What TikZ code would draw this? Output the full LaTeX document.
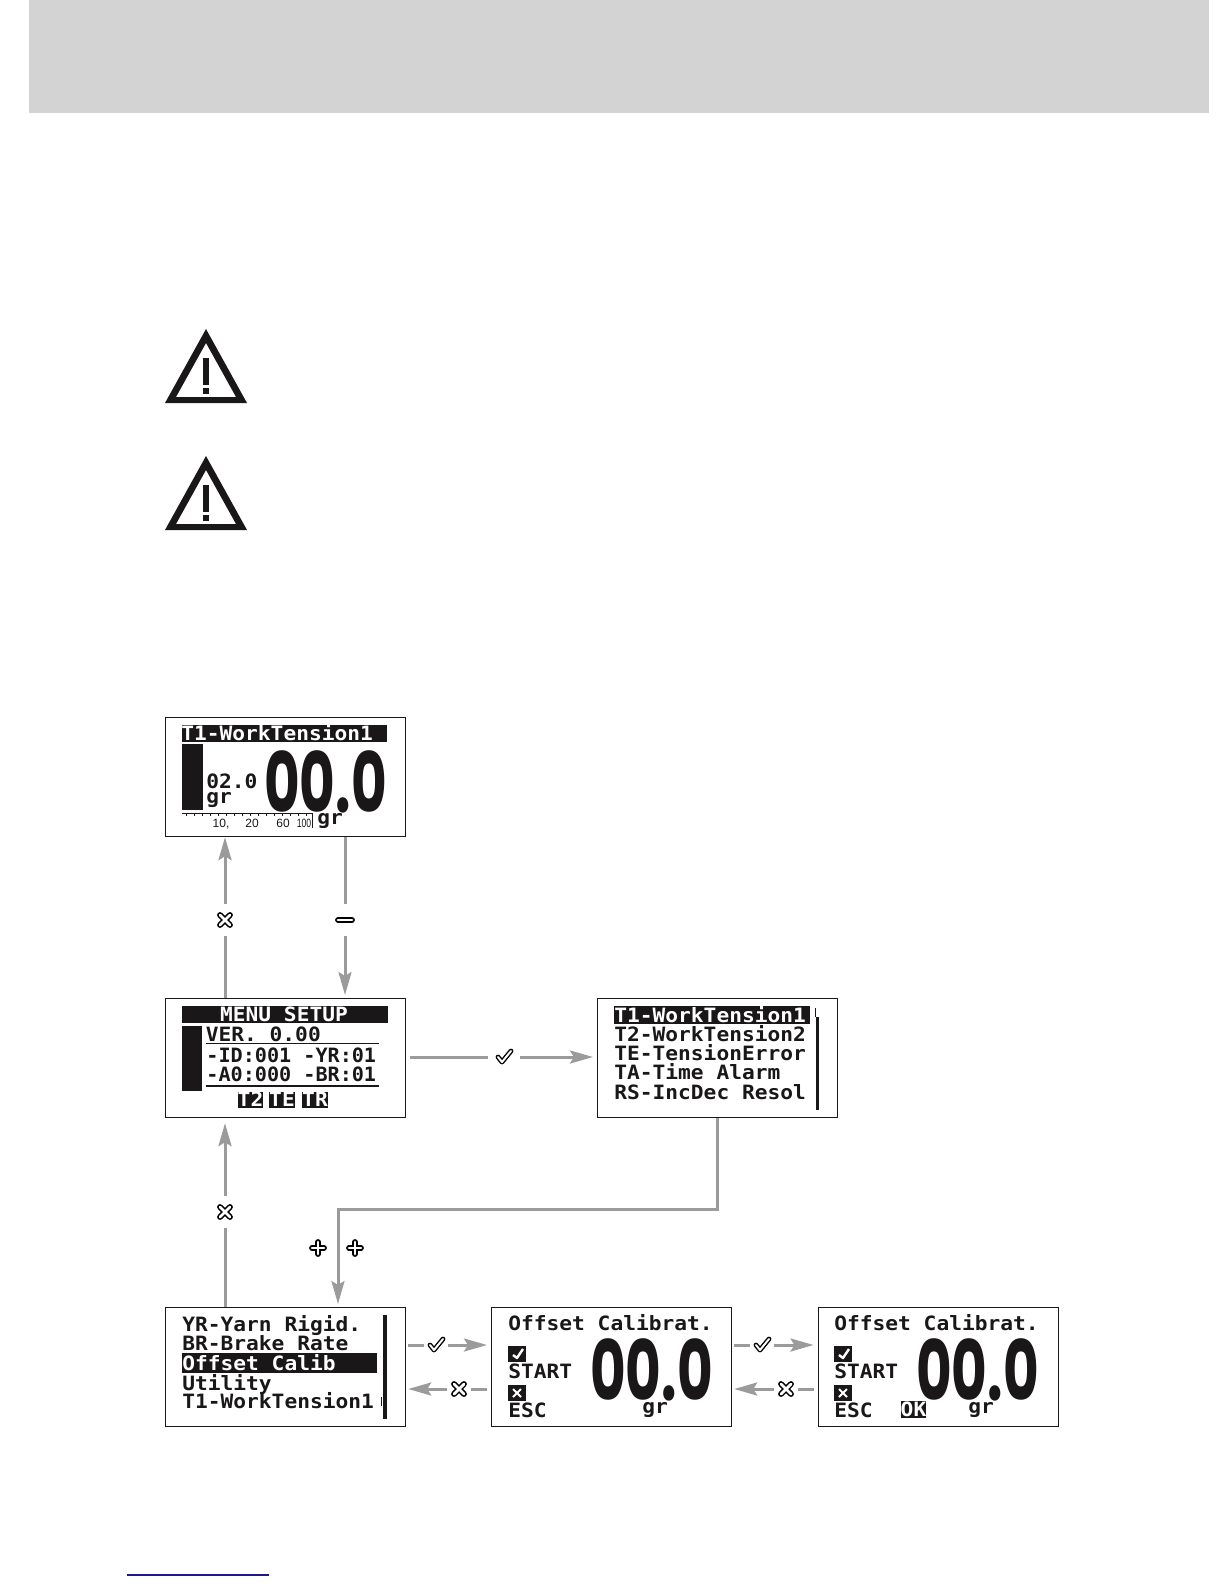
\documentclass[tikz,border=0pt]{standalone}
\usepackage{fontspec}
\usepackage{xcolor}
\usetikzlibrary{positioning,arrows.meta}
\newfontfamily\lcdfont{DejaVu Sans Mono}
\newfontfamily\bigfont{Poppins}
\newfontfamily\scalefont{Liberation Sans}
\definecolor{bandGray}{HTML}{D3D3D3}
\definecolor{flowGray}{HTML}{9B9B9B}
\definecolor{lcdBlack}{HTML}{1A1718}
\definecolor{linkBlue}{HTML}{1A1A8C}
\tikzset{
  lcd-box/.style={draw=lcdBlack, line width=0.6pt, fill=white, inner sep=0pt,
    minimum width=120pt, minimum height=59.5pt, anchor=north west},
  lcd-text/.style={font=\lcdfont\bfseries\fontsize{10.6}{12}\selectfont,
    text=lcdBlack, anchor=base west, inner sep=0pt, yscale=0.93},
  lcd-inv/.style={lcd-text, text=white},
  lcd-badge/.style={lcd-inv, anchor=base},
  lcd-big/.style={font=\bigfont\bfseries\fontsize{41.5}{42}\selectfont,
    text=lcdBlack, anchor=base west, inner sep=0pt, xscale=0.66},
  lcd-scale/.style={font=\scalefont\fontsize{6}{7}\selectfont, text=lcdBlack,
    anchor=base, inner sep=0pt},
  flow-line/.style={line width=1.5pt, draw=flowGray},
  flow/.style={flow-line, -{Stealth[length=11.5pt,width=6.5pt,inset=2pt]}},
  icon-slot/.style={inner sep=0pt, minimum size=16pt},
  icon-slim/.style={inner sep=0pt, minimum size=11.5pt},
  icon-out/.style={draw=black, line width=2.9pt, line cap=round, line join=round},
  icon-in/.style={draw=white, line width=1.4pt, line cap=round, line join=round},
  xicon/.pic={
    \draw[icon-out] (-5,-5) -- (5,5) (-5,5) -- (5,-5);
    \draw[icon-in] (-5,-5) -- (5,5) (-5,5) -- (5,-5);
  },
  checkicon/.pic={
    \draw[icon-out, line width=2.4pt] (-6,0) -- (-2,5) -- (7,-6);
    \draw[icon-in, line width=1pt] (-6,0) -- (-2,5) -- (7,-6);
  },
  plusicon/.pic={
    \draw[icon-out] (-6,0) -- (6,0) (0,-6) -- (0,6);
    \draw[icon-in] (-6,0) -- (6,0) (0,-6) -- (0,6);
  },
  minusicon/.pic={
    \draw[icon-out] (-7,0) -- (7,0);
    \draw[icon-in] (-7,0) -- (7,0);
  }
}
\begin{document}
\begin{tikzpicture}[x=0.5pt, y=-0.5pt]
\useasboundingbox (0,0) rectangle (1224,1584);
% Header band and footer rule
\fill[bandGray] (29,0) rectangle (1209,113);
\draw[linkBlue, line width=1pt] (127,1575) -- (269,1575);
% Warning triangles
\foreach \y in {0,127}{
  \fill[lcdBlack, even odd rule] (165,403+\y) -- (206,329+\y) -- (247,403+\y) -- cycle
    (176,397+\y) -- (206,343+\y) -- (236,397+\y) -- cycle;
  \fill[lcdBlack] (203,358+\y) rectangle (209,385+\y);
  \fill[lcdBlack] (203,388+\y) rectangle (209,394+\y);
}
% Screens
\node[lcd-box] (work) at (165,717) {};
\node[lcd-box] (menu) at (165,998) {};
\node[lcd-box] (list) at (597,998) {};
\node[lcd-box] (yarn) at (165,1307) {};
\node[lcd-box] (calA) at (491,1307) {};
\node[lcd-box] (calB) at (817.5,1307) {};
% Work screen
\fill[lcdBlack] (182,725) rectangle (387,742);
\fill[lcdBlack] (182,744) rectangle (203,810);
\node[lcd-inv] (workTitle) at (181,740) {T1-WorkTension1};
\node[lcd-text] (workSet) at (206,788) {02.0};
\node[lcd-text] (workSetUnit) at (206,803) {gr};
\node[lcd-big] (workValue) at (264,812) {00.0};
\node[lcd-text] (workUnit) at (317,824) {gr};
\draw[lcdBlack, line width=0.5pt] (182,813) -- (312,813) -- (312,828);
\foreach \x in {186,194,...,306}{
  \draw[lcdBlack, line width=0.4pt] (\x,813) -- (\x,816);
}
\foreach \x/\t in {221/{10,}, 252/20, 283/60}{
  \node[lcd-scale] (scale\x) at (\x,827) {\t};
}
\node[lcd-scale, xscale=0.72] (scale304) at (304,827) {100};
% Menu screen
\fill[lcdBlack] (182,1006) rectangle (388,1023);
\fill[lcdBlack] (182,1026) rectangle (202,1091);
\node[lcd-badge] (menuTitle) at (284,1021) {MENU SETUP};
\node[lcd-text] (menuVer) at (205.5,1041) {VER. 0.00};
\node[lcd-text, xscale=0.95] (menuId) at (206,1062) {-ID:001 -YR:01};
\node[lcd-text, xscale=0.95] (menuAo) at (206,1081) {-A0:000 -BR:01};
\draw[lcdBlack, line width=0.7pt] (206,1043.5) -- (379,1043.5) (206,1086) -- (379,1086);
\foreach \xa/\xb/\t in {238/263/T2, 269/295/TE, 302/328/TR}{
  \fill[lcdBlack] (\xa,1092) rectangle (\xb,1108);
  \node[lcd-badge] (badge\t) at ({(\xa+\xb)/2},1106) {\t};
}
% List screen
\fill[lcdBlack] (614,1006) rectangle (810,1024);
\node[lcd-inv] (listA) at (614,1022) {T1-WorkTension1};
\foreach \y/\t/\n in {1041/T2-WorkTension2/B, 1060/TE-TensionError/C, 1079/TA-Time Alarm/D, 1099/RS-IncDec Resol/E}{
  \node[lcd-text] (list\n) at (614,\y) {\t};
}
\fill[lcdBlack] (816,1017) rectangle (819,1110);
\draw[lcdBlack, line width=0.4pt] (815,1008) -- (815,1017);
% Yarn screen
\fill[lcdBlack] (182,1353) rectangle (377,1373);
\foreach \y/\t/\n in {1331/YR-Yarn Rigid./A, 1350/BR-Brake Rate/B, 1390/Utility/D, 1408/T1-WorkTension1/E}{
  \node[lcd-text] (yarn\n) at (182,\y) {\t};
}
\node[lcd-inv] (yarnC) at (182,1370) {Offset Calib};
\fill[lcdBlack] (383,1315) rectangle (387,1419);
\draw[lcdBlack, line width=0.5pt] (381.5,1397) -- (381.5,1406);
% Calibration screens
\foreach \dx/\n in {0/A, -326/B}{
  \begin{scope}[shift={(\dx,0)}]
    \node[lcd-text] (title\n) at (834,1330) {Offset Calibrat.};
    \fill[lcdBlack] (834,1346) rectangle (852,1362);
    \draw[white, line width=1.2pt, line join=round] (839,1355) -- (843,1358) -- (849,1349);
    \node[lcd-text] (start\n) at (834,1378) {START};
    \fill[lcdBlack] (834,1385) rectangle (852,1401);
    \draw[white, line width=1pt] (839,1389) -- (847,1397) (839,1397) -- (847,1389);
    \node[lcd-text] (esc\n) at (834,1417) {ESC};
    \node[lcd-big] (value\n) at (916,1400) {00.0};
    \node[lcd-text] (unit\n) at (968,1413) {gr};
  \end{scope}
}
\fill[lcdBlack] (901,1401) rectangle (926,1418);
\node[lcd-badge] (okBadge) at (913.5,1416) {OK};
% Icon slots on the connectors
\node[icon-slot] (escWork) at (225,920) {};
\node[icon-slot] (minusMenu) at (345,920) {};
\node[icon-slot] (okMenu) at (504,1057) {};
\node[icon-slot] (escMenu) at (225,1212) {};
\node[icon-slim] (okCalA) at (436,1345) {};
\node[icon-slim] (escCalA) at (459,1389) {};
\node[icon-slim] (okCalB) at (762,1345) {};
\node[icon-slim] (escCalB) at (786,1389) {};
\coordinate (plusA) at (318,1248);
\coordinate (plusB) at (355,1248);
\coordinate (bend) at (338,1209);
\foreach \n/\k in {escWork/xicon, minusMenu/minusicon, okMenu/checkicon, escMenu/xicon,
  okCalA/checkicon, escCalA/xicon, okCalB/checkicon, escCalB/xicon, plusA/plusicon, plusB/plusicon}{
  \pic at (\n) {\k};
}
% Connectors
\draw[flow-line] (menu.north -| escWork) -- (escWork);
\draw[flow] (escWork) -- (escWork |- work.south);
\draw[flow-line] (work.south -| minusMenu) -- (minusMenu);
\draw[flow, shorten >=1.5pt] (minusMenu) -- (minusMenu |- menu.north);
\draw[flow-line, shorten <=2pt] (menu.east |- okMenu) -- (okMenu);
\draw[flow, shorten >=2pt] (okMenu) -- (list.west |- okMenu);
\draw[flow-line] (yarn.north -| escMenu) -- (escMenu);
\draw[flow, shorten >=2.5pt] (escMenu) -- (escMenu |- menu.south);
\draw[flow, shorten >=1.5pt] (list.south) |- (bend) -- (bend |- yarn.north);
\draw[flow-line, shorten <=1pt] (yarn.east |- okCalA) -- (okCalA);
\draw[flow, shorten >=2pt] (okCalA) -- (calA.west |- okCalA);
\draw[flow-line, shorten <=2pt] (calA.west |- escCalA) -- (escCalA);
\draw[flow, shorten >=1pt] (escCalA) -- (yarn.east |- escCalA);
\draw[flow-line, shorten <=1pt] (calA.east |- okCalB) -- (okCalB);
\draw[flow, shorten >=2pt] (okCalB) -- (calB.west |- okCalB);
\draw[flow-line, shorten <=2pt] (calB.west |- escCalB) -- (escCalB);
\draw[flow, shorten >=1pt] (escCalB) -- (calA.east |- escCalB);
\end{tikzpicture}
\end{document}
